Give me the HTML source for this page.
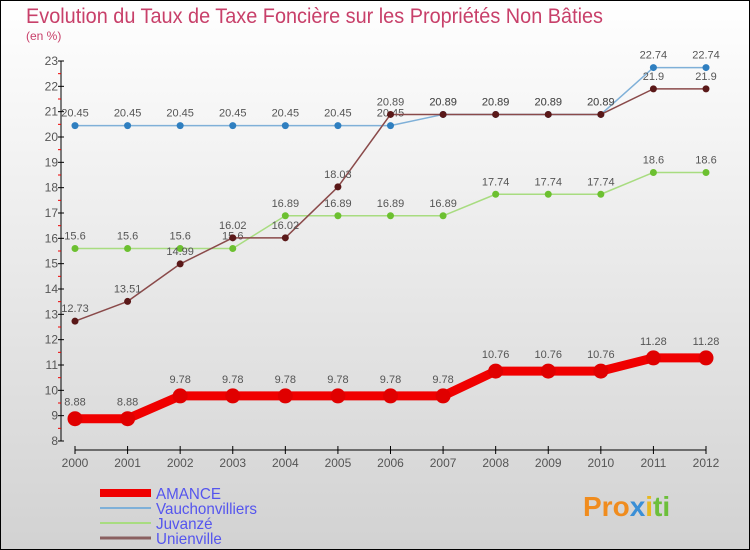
<!DOCTYPE html>
<html><head><meta charset="utf-8"><style>
body{margin:0;width:750px;height:550px;overflow:hidden}
svg{display:block;font-family:"Liberation Sans",sans-serif}
</style></head><body>
<svg id="c" width="750" height="550">
<defs><linearGradient id="bg" x1="0" y1="0" x2="0" y2="1"><stop offset="0" stop-color="#ffffff"/><stop offset="1" stop-color="#d2d2d2"/></linearGradient></defs>
<rect x="0.5" y="0.5" width="749" height="549" fill="url(#bg)" stroke="#000"/>
<text x="26" y="23" font-size="21" fill="#c8406a" textLength="577" lengthAdjust="spacingAndGlyphs">Evolution du Taux de Taxe Foncière sur les Propriétés Non Bâties</text>
<text x="26" y="40" font-size="12" fill="#c8406a">(en %)</text>
<g id="axes"></g><g id="series"></g><g id="legend"></g>
<text x="583" y="516" font-size="28" font-weight="bold"><tspan fill="#f08c1e">Pro</tspan><tspan fill="#3a8fd6">x</tspan><tspan fill="#e8b820">i</tspan><tspan fill="#6cbf3a">ti</tspan></text>
</svg>
<script>
const years=["2000","2001","2002","2003","2004","2005","2006","2007","2008","2009","2010","2011","2012"];
const yTicks=[8,9,10,11,12,13,14,15,16,17,18,19,20,21,22,23];
const amance=[8.88,8.88,9.78,9.78,9.78,9.78,9.78,9.78,10.76,10.76,10.76,11.28,11.28];
const vauch=[20.45,20.45,20.45,20.45,20.45,20.45,20.45,20.89,20.89,20.89,20.89,22.74,22.74];
const juvanze=[15.6,15.6,15.6,15.6,16.89,16.89,16.89,16.89,17.74,17.74,17.74,18.6,18.6];
const unienville=[12.73,13.51,14.99,16.02,16.02,18.03,20.89,20.89,20.89,20.89,20.89,21.9,21.9];
const NS="http://www.w3.org/2000/svg";
const xs=i=>75+i*(706-75)/12;
const ys=v=>441-(v-8)*(441-61)/15;
function mk(t,a,p){const e=document.createElementNS(NS,t);for(const k in a)e.setAttribute(k,a[k]);p.appendChild(e);return e;}
const ax=document.getElementById('axes');
const yl=mk('line',{x1:61,y1:61,x2:61,y2:441,stroke:'#000'},ax);


yTicks.forEach(v=>{
 mk('line',{x1:58,y1:ys(v),x2:64,y2:ys(v),stroke:'#000'},ax);
 if(v<23)mk('line',{x1:58,y1:ys(v+0.5),x2:61,y2:ys(v+0.5),stroke:'#e00'},ax);
 const t=mk('text',{x:58,y:ys(v)+4,'font-size':12,fill:'#555','text-anchor':'end'},ax);t.textContent=v;
 
 
});
const xl=mk('line',{x1:75,y1:450,x2:706,y2:450,stroke:'#000'},ax);


years.forEach((y,i)=>{
 mk('line',{x1:xs(i),y1:446,x2:xs(i),y2:454,stroke:'#000'},ax);
 const t=mk('text',{x:xs(i),y:467,'font-size':12,fill:'#555','text-anchor':'middle'},ax);t.textContent=y;
 
 
});
const sg=document.getElementById('series');
function draw(data,color,dot,w,r,name){
 const g=mk('g',{},sg);
 
 
 const p=mk('polyline',{points:data.map((v,i)=>xs(i)+','+ys(v)).join(' '),fill:'none',stroke:color,'stroke-width':w,'stroke-linejoin':'round'},g);
 
 
 data.forEach((v,i)=>{
  const c=mk('circle',{cx:xs(i),cy:ys(v),r:r,fill:dot},g);
  
  
  const t=mk('text',{x:xs(i),y:ys(v)-9-(r>4?4:0),'font-size':11,fill:'#555','text-anchor':'middle'},g);t.textContent=v;
  
  
 });
}
draw(vauch,'#7fb0d8','#2f7fc0',1.5,3.5,'vauchonvilliers');
draw(juvanze,'#a8dc80','#6cc030',1.5,3.5,'juvanze');
draw(unienville,'#8a4a4a','#5a1818',1.5,3.5,'unienville');
draw(amance,'#f00000','#e00000',9,7.5,'amance');
const lg=document.getElementById('legend');
const items=[["AMANCE","#f00000",8],["Vauchonvilliers","#7fb0d8",2],["Juvanzé","#a8dc80",2],["Unienville","#8a6060",3]];
items.forEach((it,i)=>{
 const y=493+i*15;
 mk('line',{x1:100,y1:y,x2:151,y2:y,stroke:it[1],'stroke-width':it[2]},lg);
 const t=mk('text',{x:156,y:y+6,'font-size':16,fill:'#5555ee','transform':'translate(156,0) scale(0.95,1) translate(-156,0)'},lg);t.textContent=it[0];
 
 
});
</script>
</body></html>
